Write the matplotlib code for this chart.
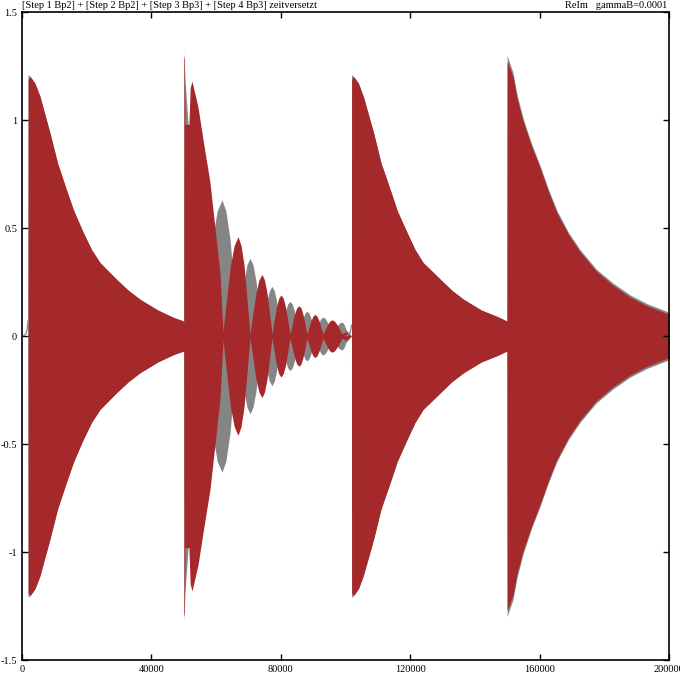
import numpy as np
import matplotlib.pyplot as plt

plt.rcParams['font.family'] = ['Liberation Serif', 'DejaVu Serif']

# envelope of the dense oscillation, x = step time, amp = +/- amplitude
red_x = [0, 1850, 1900, 2600, 4000, 5560, 7000, 8650, 11000, 13900, 16000, 18900, 21500, 24100, 29400,
         33000, 36500, 42000, 47000, 49900,
         50000, 50040, 50250, 50350, 51600, 52000, 52550, 54400, 55950, 58110, 59660, 61200, 62130,
         64450, 65610, 66770, 67700, 68620, 70470,
         72330, 73250, 74180, 74950, 75730, 77275,
         78670, 79360, 80060, 80760, 81450, 82840,
         84230, 84920, 85620, 86240, 86860, 88090,
         89330, 89950, 90560, 91180, 91800, 93040,
         94430, 95130, 95820, 96590, 97370, 98910, 100150,
         101850, 101900, 102600, 104000, 105500, 107000, 108700, 111000, 114000, 116000, 119000, 121500,
         124000, 129500, 133000, 136500, 142000, 147000, 149800,
         149900, 149950, 150500, 151770, 153000, 154860, 157500, 160110, 162700, 165370, 168900, 172480,
         177500, 182680, 188000, 193190, 200000]
red_amp = [0, 0, 1.19, 1.2, 1.17, 1.11, 1.03, 0.94, 0.8, 0.67, 0.58, 0.48, 0.4, 0.34, 0.26,
           0.21, 0.17, 0.12, 0.085, 0.07,
           0.06, 1.30, 1.28, 0.98, 0.98, 1.15, 1.18, 1.06, 0.91, 0.71, 0.50, 0.29, 0.02,
           0.33, 0.42, 0.46, 0.42, 0.33, 0.01,
           0.2, 0.26, 0.285, 0.26, 0.2, 0.01,
           0.135, 0.175, 0.19, 0.175, 0.135, 0.01,
           0.1, 0.13, 0.14, 0.13, 0.1, 0.01,
           0.071, 0.092, 0.1, 0.092, 0.071, 0.01,
           0.053, 0.069, 0.075, 0.069, 0.053, 0.01, 0.02,
           0, 1.19, 1.2, 1.17, 1.11, 1.03, 0.94, 0.8, 0.67, 0.58, 0.48, 0.4,
           0.34, 0.26, 0.21, 0.17, 0.12, 0.09, 0.07,
           0.07, 1.27, 1.25, 1.2, 1.1, 0.995, 0.88, 0.78, 0.67, 0.57, 0.47, 0.39,
           0.3, 0.235, 0.18, 0.14, 0.1]

gray_x = [0, 1850, 1870, 2600, 4000, 5560, 7000, 8650, 11000, 13900, 16000, 18900, 21500, 24100, 29400,
          33000, 36500, 42000, 47000, 49900,
          50000, 50080, 50300, 51500, 53500, 55950, 58890, 60350, 61820, 63000, 64290, 66770,
          68620, 69550, 70470, 71400, 72330, 74180,
          75730, 76500, 77275, 77970, 78670, 80060,
          81450, 82150, 82840, 83530, 84230, 85620,
          86860, 87470, 88090, 88710, 89330, 90560,
          91800, 92420, 93040, 93730, 94430, 95820,
          97370, 98140, 98910, 99530, 100150,
          101850, 101870, 102600, 104000, 105500, 107000, 108700, 111000, 114000, 116000, 119000, 121500,
          124000, 129500, 133000, 136500, 142000, 147000, 149800,
          149900, 149980, 150600, 151770, 153000, 154860, 157500, 160110, 162700, 165370, 168900, 172480,
          177500, 182680, 188000, 193190, 200000]
gray_amp = [0, 0, 1.21, 1.2, 1.17, 1.11, 1.03, 0.94, 0.8, 0.67, 0.58, 0.48, 0.4, 0.34, 0.26,
            0.21, 0.17, 0.12, 0.085, 0.07,
            0.06, 1.32, 1.2, 0.95, 0.55, 0.01, 0.45, 0.58, 0.63, 0.58, 0.45, 0.01,
            0.255, 0.33, 0.36, 0.33, 0.255, 0.01,
            0.165, 0.21, 0.23, 0.21, 0.165, 0.01,
            0.115, 0.148, 0.16, 0.148, 0.115, 0.01,
            0.082, 0.106, 0.115, 0.106, 0.082, 0.01,
            0.063, 0.081, 0.088, 0.081, 0.063, 0.01,
            0.046, 0.06, 0.065, 0.055, 0.03,
            0, 1.21, 1.2, 1.17, 1.11, 1.03, 0.94, 0.8, 0.67, 0.58, 0.48, 0.4,
            0.34, 0.26, 0.21, 0.17, 0.12, 0.09, 0.07,
            0.07, 1.30, 1.27, 1.22, 1.12, 1.01, 0.89, 0.79, 0.68, 0.58, 0.48, 0.40,
            0.31, 0.245, 0.19, 0.15, 0.11]

# slow rise before step 1 and step 3
lead1_x = [0, 600, 1200, 1600, 1850]
lead1_y = [0, 0.003, 0.01, 0.03, 0.07]
lead3_x = [100150, 101000, 101500, 101850]
lead3_y = [0.0, 0.005, 0.02, 0.05]

x_ticks = [0, 40000, 80000, 120000, 160000, 200000]
y_ticks = [-1.5, -1, -0.5, 0, 0.5, 1, 1.5]
y_labels = ['-1.5', '-1', '-0.5', '0', '0.5', '1', '1.5']

gray = '#858585'
red = '#a5282a'

fig = plt.figure(figsize=(6.8, 6.76), dpi=100)
ax = fig.add_axes([22 / 680, 16 / 676, 647 / 680, 648 / 676])

ga = np.array(gray_amp)
ra = np.array(red_amp)
ax.fill_between(gray_x, -ga, ga, color=gray, lw=0)
ax.fill_between(red_x, -ra, ra, color=red, lw=0)
ax.plot(lead1_x, lead1_y, color=gray, lw=0.9)
ax.plot(lead3_x, lead3_y, color=gray, lw=0.9)

ax.set_xlim(0, 200000)
ax.set_ylim(-1.5, 1.5)
ax.set_xticks(x_ticks)
ax.set_xticklabels([str(t) for t in x_ticks])
ax.set_yticks(y_ticks)
ax.set_yticklabels(y_labels)
ax.tick_params(direction='in', top=True, right=True, length=4.5, width=1,
               labelsize=7.5, pad=3.5)
for s in ax.spines.values():
    s.set_linewidth(1.2)

fig.text(22 / 680, 1 - 6 / 676, '[Step 1 Bp2] + [Step 2 Bp2] + [Step 3 Bp3] + [Step 4 Bp3] zeitversetzt',
         ha='left', va='center', fontsize=7.5)
fig.text(667 / 680, 1 - 6 / 676, 'ReIm   gammaB=0.0001', ha='right', va='center', fontsize=7.5)

fig.savefig('out.png', dpi=100)
